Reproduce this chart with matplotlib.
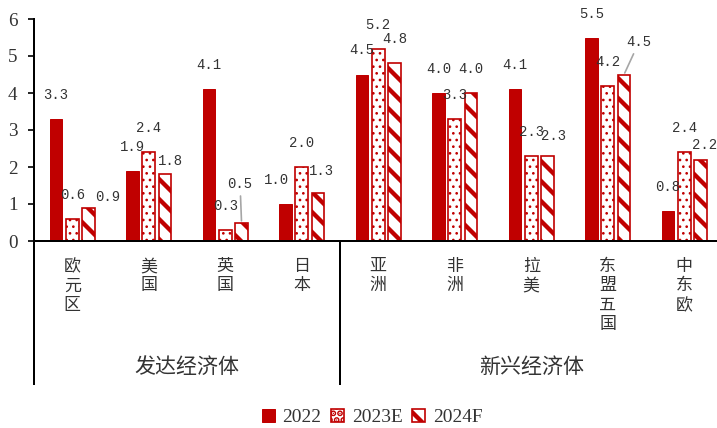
import matplotlib
matplotlib.use("Agg")
import matplotlib.pyplot as plt
import matplotlib.transforms as mtransforms
import numpy as np

# GDP growth (%) by economy
categories = ["欧元区", "美国", "英国", "日本", "亚洲", "非洲", "拉美", "东盟五国", "中东欧"]
group_names = ["发达经济体", "新兴经济体"]
series_names = ["2022", "2023E", "2024F"]
growth_2022 = [3.3, 1.9, 4.1, 1.0, 4.5, 4.0, 4.1, 5.5, 0.8]
growth_2023e = [0.6, 2.4, 0.3, 2.0, 5.2, 3.3, 2.3, 4.2, 2.4]
growth_2024f = [0.9, 1.8, 0.5, 1.3, 4.8, 4.0, 2.3, 4.5, 2.2]
y_ticks = [0, 1, 2, 3, 4, 5, 6]

DPI = 120
PT = 72.0 / DPI  # points per pixel
RED = "#C00000"
TEXT = "#333333"
CJK = ["Noto Sans CJK SC", "DejaVu Sans"]

fig = plt.figure(figsize=(717 / DPI, 428 / DPI), dpi=DPI)
ax = fig.add_axes([34 / 717, 187 / 428, 683 / 717, 222 / 428])

x = np.arange(len(categories))
off = 0.213
w = 0.168

b1 = ax.bar(x - off, growth_2022, w, color=RED, edgecolor=RED, linewidth=0.6,
            label=series_names[0], zorder=2)
plt.rcParams["hatch.linewidth"] = 0.8
b2 = ax.bar(x, growth_2023e, w, color="white", edgecolor=RED, linewidth=1.0,
            hatch="...", label=series_names[1], zorder=2)
plt.rcParams["hatch.linewidth"] = 2.6
b3 = ax.bar(x + off, growth_2024f, w, color="white", edgecolor=RED, linewidth=1.0,
            hatch="\\\\", label=series_names[2], zorder=2)

for bars, hlw in ((b2, 0.8), (b3, 2.6)):
    for p in bars:
        if hasattr(p, "set_hatch_linewidth"):
            p.set_hatch_linewidth(hlw)

ax.set_xlim(-0.5, -0.5 + 683 / 76.5)
ax.set_ylim(0, 6)
ax.set_yticks(y_ticks)
ax.set_yticklabels([str(t) for t in y_ticks], family="Liberation Serif",
                   fontsize=11.5, color=TEXT)
ax.set_xticks([])
ax.tick_params(axis="y", direction="out", length=4 * PT * 1.6, width=1.0, pad=6)
for s in ("top", "right"):
    ax.spines[s].set_visible(False)
ax.spines["left"].set_linewidth(1.2)
ax.spines["bottom"].set_linewidth(1.2)

# value labels: default position above each bar, with a few adjusted ones
series = [growth_2022, growth_2023e, growth_2024f]
offsets = [-off, 0.0, off]
default_dy = 24
label_shift = {
    (0, 3): (-9, 24),
    (2, 0): (19, 11),
    (2, 1): (5.5, 13),
    (2, 3): (3.5, 21.5),
    (2, 6): (6, 20),
    (2, 8): (4, 14.5),
}
leader_labels = {
    (2, 2): (-1.5, 38.5),
    (2, 7): (15, 32.5),
}
for si, vals in enumerate(series):
    for gi, v in enumerate(vals):
        xpos = gi + offsets[si]
        txt = f"{v:.1f}"
        if (si, gi) in leader_labels:
            dx, dy = leader_labels[(si, gi)]
            ax.annotate(txt, xy=(xpos, v), xytext=(dx * PT, dy * PT),
                        textcoords="offset points", ha="center", va="center",
                        family="Liberation Mono", fontsize=8.3, color=TEXT,
                        annotation_clip=False,
                        arrowprops=dict(arrowstyle="-", color="#A6A6A6", lw=1.0,
                                        shrinkA=1, shrinkB=1))
        else:
            dx, dy = label_shift.get((si, gi), (0, default_dy))
            ax.annotate(txt, xy=(xpos, v), xytext=(dx * PT, dy * PT),
                        textcoords="offset points", ha="center", va="center",
                        family="Liberation Mono", fontsize=8.3, color=TEXT,
                        annotation_clip=False)

# category axis: stacked labels, group separator and group names
trans = mtransforms.blended_transform_factory(ax.transData, ax.transAxes)
line_bottom = -144 / 222
ax.plot([-0.5, -0.5], [0, line_bottom], transform=trans, color="black",
        lw=1.2, clip_on=False, solid_capstyle="butt")
ax.plot([3.5, 3.5], [0, line_bottom], transform=trans, color="black",
        lw=1.2, clip_on=False, solid_capstyle="butt")
for gi, cat in enumerate(categories):
    ax.text(gi, -16 / 222, "\n".join(cat), transform=trans, ha="center", va="top",
            family=CJK, fontsize=10.2, linespacing=1.1, color=TEXT)
ax.text(1.5, -126 / 222, group_names[0], transform=trans, ha="center", va="center",
        family=CJK, fontsize=12.6, color=TEXT)
ax.text(6.0, -126 / 222, group_names[1], transform=trans, ha="center", va="center",
        family=CJK, fontsize=12.6, color=TEXT)

leg = fig.legend(handles=[b1, b2, b3], labels=series_names, loc="center",
                 bbox_to_anchor=(372 / 717, 10.5 / 428), ncol=3, frameon=False,
                 prop={"family": "Liberation Serif", "size": 11.6},
                 handlelength=0.67, handleheight=0.67, handletextpad=0.4,
                 columnspacing=0.5, labelcolor=TEXT, borderaxespad=0)

fig.savefig("out.png", dpi=DPI)
